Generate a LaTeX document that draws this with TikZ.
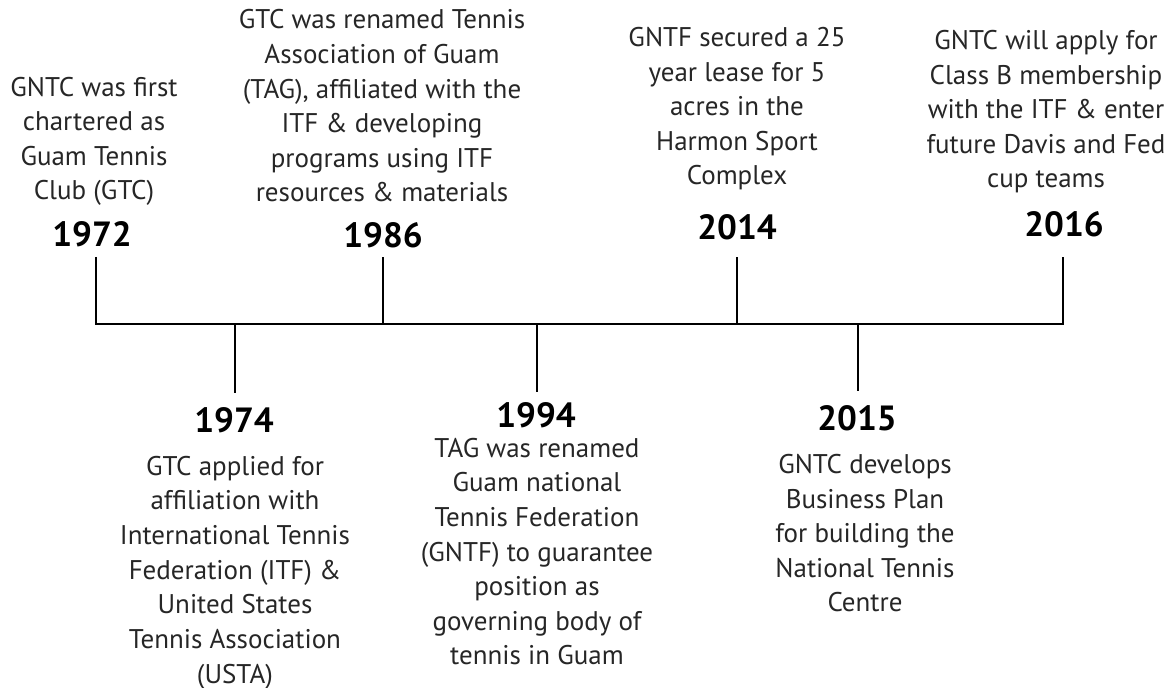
\documentclass[tikz,border=0pt]{standalone}
\usepackage{fontspec}
\setmainfont{PT Sans}
\usepackage{tikz}
\usetikzlibrary{positioning}
\usetikzlibrary{calc}

\begin{document}
\begin{tikzpicture}[x=0.5pt,y=-0.5pt,
    year/.style={font=\fontsize{17.5}{20}\selectfont\bfseries,anchor=base,inner sep=0pt},
    event/.style={font=\fontsize{13.5}{17.3}\selectfont,align=center,anchor=base,inner sep=0pt,text=black!85},
    axis/.style={line width=1.4pt,line join=miter}]
      \useasboundingbox (0,0) rectangle (1172,688);

      \coordinate (a1972) at (96,324);
      \coordinate (a1974) at (235,324);
      \coordinate (a1986) at (383,324);
      \coordinate (a1994) at (537,324);
      \coordinate (a2014) at (737,324);
      \coordinate (a2015) at (858,324);
      \coordinate (a2016) at (1063,324);

      \coordinate (e1972) at (96,257);
      \coordinate (e1974) at (235,393);
      \coordinate (e1986) at (383,257);
      \coordinate (e1994) at (537,392);
      \coordinate (e2014) at (737,257);
      \coordinate (e2015) at (858,391);
      \coordinate (e2016) at (1063,257);

      \draw[axis] (e1972) -- (a1972) -- (a2016) -- (e2016);
      \draw[axis] (a1974) -- (e1974);
      \draw[axis] (a1986) -- (e1986);
      \draw[axis] (a1994) -- (e1994);
      \draw[axis] (a2014) -- (e2014);
      \draw[axis] (a2015) -- (e2015);

      \node[year] (y1972) at (92,247) {1972};
      \node[year] (y1986) at (383,248) {1986};
      \node[year] (y2014) at (737,240) {2014};
      \node[year] (y2016) at (1064,237) {2016};
      \node[year] (y1974) at (234,433) {1974};
      \node[year] (y1994) at (536,428) {1994};
      \node[year] (y2015) at (857,431) {2015};

      \node[event] (d1972) at (94,200) {GNTC was first\\chartered as\\Guam Tennis\\Club (GTC)};
      \node[event] (d1986) at (382,202) {GTC was renamed Tennis\\Association of Guam\\(TAG), affiliated with the\\ITF \& developing\\programs using ITF\\resources \& materials};
      \node[event] (d2014) at (737,185) {GNTF secured a 25\\year lease for 5\\acres in the\\Harmon Sport\\Complex};
      \node[event] (d2016) at (1046,188) {GNTC will apply for\\Class B membership\\with the ITF \& enter\\future Davis and Fed\\cup teams};
      \node[event] (d1974) at (235,683) {GTC applied for\\affiliation with\\International Tennis\\Federation (ITF) \&\\United States\\Tennis Association\\(USTA)};
      \node[event] (d1994) at (537,665) {TAG was renamed\\Guam national\\Tennis Federation\\(GNTF) to guarantee\\position as\\governing body of\\tennis in Guam};
      \node[event] (d2015) at (865,612) {GNTC develops\\Business Plan\\for building the\\National Tennis\\Centre};

    \end{tikzpicture}
\end{document}
